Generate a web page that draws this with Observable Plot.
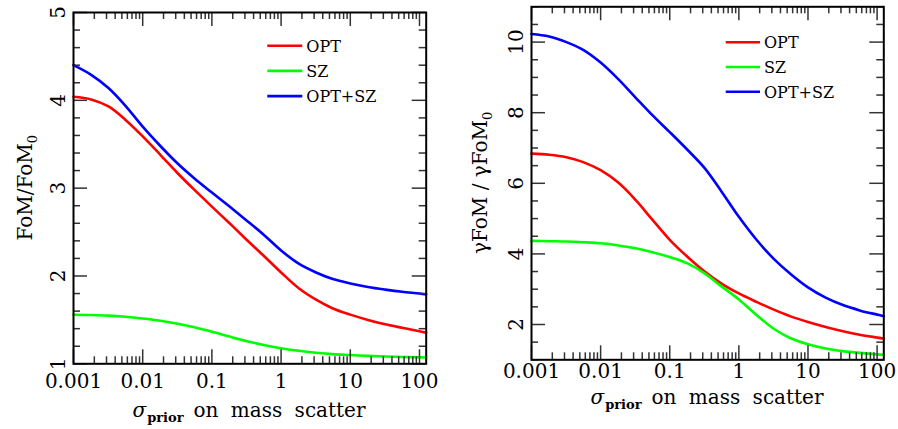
<!DOCTYPE html>
<html><head><meta charset="utf-8">
<script src="https://cdn.jsdelivr.net/npm/d3@7"></script>
<script src="https://cdn.jsdelivr.net/npm/@observablehq/plot@0.6"></script>
<style>
body{margin:0;background:#fff;}
#wrap{display:flex;width:898px;height:429px;overflow:hidden;}
#wrap svg{display:block;}
</style></head><body><div id="wrap"></div>
<script>
// sigma_prior grid (x values, quarter decades)
const sigma = [0.001,0.0018,0.0032,0.0056,0.01,0.018,0.032,0.056,0.1,0.18,0.32,0.56,1,1.8,3.2,5.6,10,18,32,56,100,125];

const seriesNames = ["OPT","SZ","OPT+SZ"];
const seriesColors = ["#ff0000","#00ff00","#0000ff"];

// Left panel: FoM / FoM_0
const leftOPT   = [4.04,4.01,3.93,3.78,3.59,3.38,3.17,2.98,2.79,2.60,2.41,2.23,2.04,1.86,1.73,1.63,1.56,1.50,1.45,1.41,1.37,1.355];
const leftSZ    = [1.558,1.555,1.548,1.535,1.515,1.49,1.457,1.415,1.365,1.31,1.258,1.215,1.178,1.148,1.126,1.11,1.10,1.09,1.083,1.078,1.074,1.072];
const leftOPTSZ = [4.40,4.29,4.14,3.94,3.70,3.48,3.28,3.11,2.95,2.79,2.63,2.47,2.29,2.14,2.04,1.965,1.915,1.875,1.845,1.82,1.80,1.79];

// Right panel: gammaFoM / gammaFoM_0
const rightOPT   = [6.84,6.81,6.74,6.60,6.37,6.02,5.53,4.97,4.40,3.92,3.50,3.16,2.88,2.64,2.42,2.23,2.07,1.93,1.81,1.71,1.63,1.60];
const rightSZ    = [4.37,4.36,4.35,4.33,4.30,4.24,4.16,4.05,3.91,3.73,3.45,3.08,2.71,2.27,1.88,1.61,1.44,1.32,1.245,1.195,1.155,1.145];
const rightOPTSZ = [10.23,10.16,10.00,9.78,9.42,8.95,8.43,7.93,7.45,6.95,6.43,5.77,5.05,4.40,3.86,3.43,3.05,2.76,2.55,2.40,2.28,2.235];

const xTicks = [0.001,0.01,0.1,1,10,100];
const xTickLabels = ["0.001","0.01","0.1","1","10","100"];
const xDomain = [0.001,125];
const leftYTicks = [1,2,3,4,5];
const rightYTicks = [2,4,6,8,10];

const FONT = "'DejaVu Serif', serif";
const xMinor = [];
for (const d of xTicks) for (let k=2;k<=9;k++){const v=d*k; if (v<=xDomain[1]) xMinor.push(+v.toPrecision(3));}

function rows(arrs){
  const out=[];
  arrs.forEach((a,j)=>a.forEach((v,i)=>out.push({sigma:sigma[i], value:v, series:seriesNames[j]})));
  return out;
}

// inward tick marks as rules whose length (in pixels) is converted to data units
function frameRules(xs, ys, len, plotW, plotH, yDomain){
  const [y0, y1] = yDomain;
  const dyData = len / plotH * (y1 - y0);
  const lx0 = Math.log10(xDomain[0]), lx1 = Math.log10(xDomain[1]);
  const dlx = len / plotW * (lx1 - lx0);
  const xIn0 = Math.pow(10, lx0 + dlx), xIn1 = Math.pow(10, lx1 - dlx);
  const o = {stroke:"#333", strokeWidth:1.5};
  return [
    Plot.ruleX(xs, {...o, x:d=>d, y1:y0, y2:y0 + dyData}),
    Plot.ruleX(xs, {...o, x:d=>d, y1:y1 - dyData, y2:y1}),
    Plot.ruleY(ys, {...o, y:d=>d, x1:xDomain[0], x2:xIn0}),
    Plot.ruleY(ys, {...o, y:d=>d, x1:xIn1, x2:xDomain[1]})
  ];
}

function panel(cfg){
  const W = 449, H = 429;
  const plotW = W - cfg.ml - cfg.mr, plotH = H - cfg.mt - cfg.mb;
  const svg = Plot.plot({
    width: W, height: H,
    marginLeft: cfg.ml, marginRight: cfg.mr, marginTop: cfg.mt, marginBottom: cfg.mb,
    x: {type:"log", domain:xDomain, label:null},
    y: {domain:cfg.yDomain, label:null, axis:null},
    color: {domain:seriesNames, range:seriesColors},
    style: {fontFamily: FONT, fontSize:"20px", background:"white", color:"black"},
    marks: [
      Plot.line(rows(cfg.data), {x:"sigma", y:"value", stroke:"series", curve:"catmull-rom", strokeWidth:2.6}),
      ...frameRules(xTicks, cfg.yMajor, 14, plotW, plotH, cfg.yDomain),
      ...frameRules(xMinor, cfg.yMinor, 7, plotW, plotH, cfg.yDomain),
      Plot.axisX({anchor:"bottom", ticks:xTicks, tickSize:0, tickPadding:cfg.xPad, fontSize:20, label:null,
                  tickFormat:d=>xTickLabels[xTicks.indexOf(d)]}),
      Plot.text(cfg.yLabels, {y:d=>d, text:d=>String(d), frameAnchor:"left", rotate:-90, dx:-9,
                  lineAnchor:"bottom", textAnchor:"middle", fontSize:20, fill:"black"}),
      Plot.frame({stroke:"black", strokeWidth:2})
    ]
  });
  const s = d3.select(svg);
  // x-axis title with subscript
  const xt = s.append("text").attr("x", cfg.xTitleX).attr("y", cfg.xTitleY)
    .attr("text-anchor","middle").attr("font-family",FONT).attr("font-size",20)
    .attr("fill","black").attr("word-spacing","6px");
  xt.append("tspan").attr("font-style","italic").text("σ");
  xt.append("tspan").attr("font-size",13).attr("font-weight","bold").attr("dy",5).attr("dx",1).text("prior");
  xt.append("tspan").attr("dy",-5).attr("dx",10).text("on mass scatter");
  // y-axis title
  const yt = s.append("text").attr("transform",`translate(${cfg.yTitleX},${cfg.yTitleY}) rotate(-90)`)
    .attr("text-anchor","middle").attr("font-family",FONT).attr("font-size",20).attr("fill","black");
  yt.append("tspan").text(cfg.yTitle);
  yt.append("tspan").attr("font-size",13).attr("dy",5).text("0");
  // legend
  const lg = s.append("g");
  seriesNames.forEach((n,i)=>{
    const y = cfg.legY + i*cfg.legDy;
    lg.append("line").attr("x1",cfg.legX1).attr("x2",cfg.legX2).attr("y1",y).attr("y2",y)
      .attr("stroke",seriesColors[i]).attr("stroke-width",2.6);
    lg.append("text").attr("x",cfg.legX2+4).attr("y",y+6).attr("font-family",FONT)
      .attr("text-anchor","start").attr("font-size",16).attr("fill","black").text(n);
  });
  return svg;
}

const wrap = document.getElementById("wrap");
wrap.appendChild(panel({
  ml:73, mr:23.3, mt:12, mb:65.7, yDomain:[1,5], xPad:10,
  yMajor:leftYTicks, yMinor:d3.range(1,5.001,0.2).map(v=>+v.toFixed(1)).filter(v=>!leftYTicks.includes(v)),
  yLabels:leftYTicks,
  data:[leftOPT,leftSZ,leftOPTSZ],
  xTitleX:249, xTitleY:416.5,
  yTitle:"FoM/FoM", yTitleX:31.5, yTitleY:187.7,
  legX1:267.3, legX2:302.3, legY:45.7, legDy:25.2
}));
wrap.appendChild(panel({
  ml:82, mr:14.7, mt:6.3, mb:69.7, yDomain:[1,11], xPad:3.5,
  yMajor:rightYTicks, yMinor:d3.range(1,11.001,0.5).filter(v=>!rightYTicks.includes(v)),
  yLabels:rightYTicks,
  data:[rightOPT,rightSZ,rightOPTSZ],
  xTitleX:258, xTitleY:403.5,
  yTitle:"γFoM / γFoM", yTitleX:37.5, yTitleY:182.8,
  legX1:276.7, legX2:311, legY:42.3, legDy:24.7
}));
</script></body></html>
